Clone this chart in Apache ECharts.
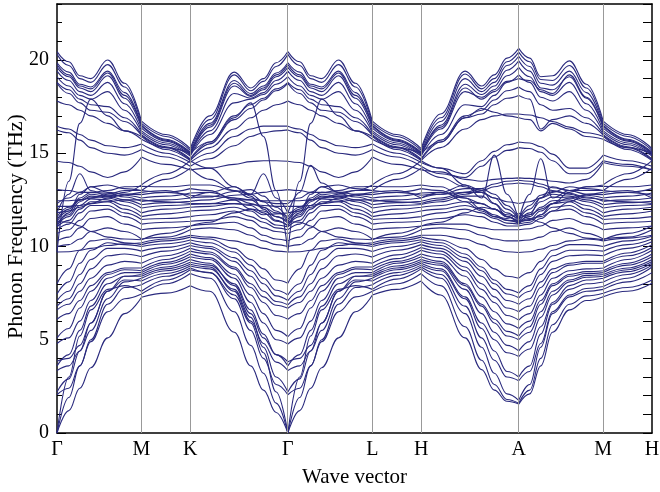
<!DOCTYPE html>
<html><head><meta charset="utf-8">
<script src="https://cdn.jsdelivr.net/npm/echarts@6/dist/echarts.min.js"></script>
<style>html,body{margin:0;padding:0;background:#fff}#c{width:660px;height:492px}</style>
</head><body><div id="c"></div>
<script>
// path distances of sample points (Γ-M length = 1)
const kDist = [0,0.14,0.27,0.40,0.60,0.80,1.000, 1.289,1.577, 1.808,2.097,2.293,2.443,2.593,2.732,
  2.872,3.002,3.132,3.332,3.532,3.732, 4.020,4.309, 4.540,4.829,5.025,5.175,5.325,5.464,
  5.594,5.724,5.864,6.064,6.264,6.464, 6.752,7.041];
const kPos = [0,1,1.577,2.732,3.732,4.309,5.464,6.464,7.041];
const kLabels = ['Γ','M','K','Γ','L','H','A','M','H'];
const segNodes = [0,6,8,14,20,22,28,34,36];
const yTicks = [0,5,10,15,20];

// upper bands
const bU1 = [20.45,19.9,19.15,19.0,20.0,18.75,16.72, 16.0,15.25, 17.0,19.35,18.5,19.0,19.85,20.45, 19.9,19.15,19.0,20.0,18.75,16.72, 16.0,15.25, 17.1,19.4,18.6,19.2,20.1,20.62, 20.1,19.1,19.15,19.95,18.7,16.72, 16.0,15.25];
const bU2 = [20.3,19.7,19.0,18.8,19.75,18.55,16.6, 15.9,15.15, 16.8,19.2,18.35,18.85,19.65,20.3, 19.7,19.0,18.8,19.75,18.55,16.6, 15.9,15.15, 16.9,19.25,18.45,19.0,19.9,20.42, 19.9,18.95,18.9,19.7,18.5,16.6, 15.9,15.15];
const bU3 = [19.85,19.35,18.7,18.55,19.4,18.25,16.5, 15.75,15.05, 16.6,18.9,18.2,18.6,19.3,19.85, 19.35,18.7,18.55,19.4,18.25,16.5, 15.75,15.05, 16.7,19.0,18.3,18.8,19.7,20.2, 19.65,18.75,18.65,19.4,18.25,16.5, 15.75,15.05];
const bU4 = [19.6,19.1,18.5,18.3,19.15,17.95,16.35, 15.65,14.95, 16.4,18.6,18.05,18.4,19.1,19.6, 19.1,18.5,18.3,19.15,17.95,16.35, 15.65,14.95, 16.5,18.7,18.15,18.6,19.45,19.95, 19.4,18.5,18.4,19.1,17.95,16.35, 15.65,14.95];
const bU5 = [19.4,18.9,18.3,18.1,18.8,17.65,16.2, 15.55,14.9, 16.2,18.2,17.95,18.25,18.9,19.4, 18.9,18.3,18.1,18.8,17.65,16.2, 15.55,14.9, 16.3,18.3,18.0,18.4,19.15,19.6, 19.1,18.3,18.1,18.8,17.65,16.2, 15.55,14.9];
const bU6 = [19.1,18.6,18.1,17.9,18.3,17.3,16.1, 15.45,14.85, 16.0,17.7,17.9,18.15,18.7,19.1, 18.6,18.1,17.9,18.3,17.3,16.1, 15.45,14.85, 16.0,17.6,17.5,18.1,18.8,19.2, 18.8,18.0,17.8,18.3,17.3,16.1, 15.45,14.85];
const bUA = [19.75,19.2,18.6,18.45,19.3,18.1,16.45, 15.7,15.0, 16.5,18.75,18.1,18.5,19.2,19.75, 19.2,18.6,18.45,19.3,18.1,16.45, 15.7,15.0, 16.4,18.5,17.9,18.3,18.85,19.0, 18.9,18.4,18.2,19.2,18.0,16.45, 15.7,15.0];
const bU7 = [18.8,18.4,17.9,17.6,17.5,16.9,16.0, 15.35,14.7, 15.6,17.0,17.6,17.95,18.45,18.8, 18.4,17.9,17.6,17.5,16.9,16.0, 15.35,14.7, 15.7,17.0,17.3,17.85,18.35,18.55, 18.3,17.6,17.3,17.4,16.9,16.0, 15.35,14.7];
const bUB = [18.75,18.2,17.7,17.3,17.2,16.7,15.95, 15.3,14.65, 15.5,16.8,17.4,17.85,18.35,18.75, 18.2,17.7,17.3,17.2,16.7,15.95, 15.3,14.65, 15.6,16.9,17.1,17.6,17.95,18.1, 17.9,16.3,16.8,17.0,16.6,15.95, 15.3,14.65];
const bU8 = [17.8,17.6,17.3,17.0,16.6,16.2,15.9, 15.2,14.6, 15.3,16.3,16.9,17.3,17.6,17.8, 17.6,17.3,17.0,16.6,16.2,15.9, 15.2,14.6, 15.3,16.3,16.8,17.0,17.1,17.1, 17.05,16.9,16.7,16.4,16.1,15.9, 15.2,14.6];
const bS1 = [9.7,13.5,16.6,17.9,17.0,16.2,15.75, 15.3,15.0, 15.6,16.9,17.7,15.9,13.0,9.7, 13.5,16.6,17.9,17.0,16.2,15.75, 15.3,15.0, 15.6,16.9,17.4,17.2,17.0,16.9, 16.8,16.2,16.6,16.3,15.9,15.75, 15.3,15.0];
const bU9 = [16.45,16.3,16.0,15.7,15.4,15.3,15.5, 15.0,14.5, 15.0,15.9,16.3,16.45,16.45,16.45, 16.3,16.0,15.7,15.4,15.3,15.5, 15.0,14.5, 14.2,13.9,14.6,15.1,15.45,15.6, 15.55,15.35,14.95,14.2,14.2,14.9, 14.6,14.3];
const bU10 = [16.25,16.1,15.7,15.3,15.0,14.9,15.2, 14.8,14.3, 14.7,15.4,15.9,16.1,16.2,16.25, 16.1,15.7,15.3,15.0,14.9,15.2, 14.8,14.3, 13.9,13.7,14.3,14.8,15.15,15.3, 15.25,15.05,14.6,13.9,13.9,14.6, 14.4,14.1];
const bU11 = [14.57,14.5,14.3,14.0,13.7,14.0,14.8, 14.4,14.1, 14.2,14.4,14.55,14.6,14.6,14.57, 14.5,14.3,14.0,13.7,14.0,14.8, 14.4,14.1, 14.0,13.6,13.5,13.6,13.65,13.68, 13.65,13.6,13.5,13.4,13.6,14.5, 14.3,14.1];
const bHB = [11.8,12.8,13.9,13.0,12.7,12.9,13.3, 13.9,14.6, 14.2,13.2,12.8,13.9,12.6,11.8, 12.9,14.35,13.4,12.9,13.0,13.3, 13.9,14.6, 14.2,13.3,12.6,14.9,12.8,11.4, 12.8,14.7,12.6,13.0,13.2,13.3, 13.9,14.6];
const bX2 = [12.3,12.6,12.9,13.2,13.3,13.1,13.0, 13.6,14.2, 13.6,13.0,12.6,12.4,12.3,12.3, 12.6,12.9,13.2,13.3,13.1,13.0, 13.6,14.2, 13.7,13.2,12.9,12.6,12.4,12.3, 12.4,12.6,12.9,13.2,13.1,13.0, 13.6,14.2];

// middle bands
const bM1 = [9.7,9.72,9.8,9.9,10.05,10.15,10.2, 10.4,10.6, 10.5,10.3,10.1,9.9,9.75,9.7, 9.72,9.8,9.9,10.05,10.15,10.2, 10.4,10.6, 10.6,10.4,10.1,9.85,9.72,9.68, 9.72,9.85,10.05,10.3,10.4,10.3, 10.45,10.6];
const bM2 = [10.0,10.1,10.4,10.8,11.0,10.8,10.4, 10.5,10.9, 11.0,10.9,10.6,10.3,10.1,10.0, 10.1,10.4,10.8,11.0,10.8,10.4, 10.5,10.9, 11.0,10.9,10.6,10.4,10.3,10.3, 10.35,10.5,10.8,11.0,10.7,10.4, 10.5,10.9];
const bM3 = [10.3,10.5,11.0,11.5,11.6,11.2,10.9, 11.0,11.1, 11.2,11.3,11.0,10.6,10.4,10.3, 10.5,11.0,11.5,11.6,11.2,10.9, 11.0,11.1, 11.2,11.2,11.0,10.9,10.9,10.9, 10.95,11.1,11.4,11.5,11.2,10.9, 11.0,11.1];
const bM4 = [10.7,10.9,11.4,11.9,12.0,11.6,11.2, 11.3,11.35, 11.4,11.6,11.4,11.0,10.8,10.7, 10.9,11.4,11.9,12.0,11.6,11.2, 11.3,11.35, 11.5,11.7,11.6,11.3,11.1,11.1, 11.2,11.5,11.9,12.0,11.6,11.2, 11.3,11.35];
const bM5 = [10.9,11.2,11.8,12.2,12.2,11.8,11.45, 11.5,11.6, 11.7,11.9,11.6,11.3,11.0,10.9, 11.2,11.8,12.2,12.2,11.8,11.45, 11.5,11.6, 11.8,12.0,11.8,11.5,11.25,11.2, 11.3,11.7,12.1,12.2,11.8,11.45, 11.5,11.6];
const bM6 = [11.05,11.4,12.0,12.4,12.4,12.0,11.6, 11.75,11.9, 11.95,12.1,11.9,11.5,11.15,11.05, 11.4,12.0,12.4,12.4,12.0,11.6, 11.75,11.9, 12.0,12.2,12.0,11.7,11.4,11.25, 11.45,11.9,12.3,12.4,12.0,11.6, 11.75,11.9];
const bM7 = [11.15,11.6,12.2,12.55,12.5,12.2,11.8, 12.0,12.1, 12.15,12.3,12.2,11.8,11.35,11.15, 11.6,12.2,12.55,12.5,12.2,11.8, 12.0,12.1, 12.2,12.4,12.3,12.0,11.6,11.3, 11.6,12.1,12.45,12.5,12.2,11.8, 12.0,12.1];
const bM8 = [11.25,11.7,12.4,12.7,12.6,12.4,12.06, 12.2,12.25, 12.3,12.5,12.5,12.1,11.6,11.25, 11.7,12.4,12.7,12.6,12.4,12.06, 12.2,12.25, 12.4,12.7,12.7,12.3,11.8,11.35, 11.8,12.4,12.65,12.6,12.4,12.06, 12.2,12.25];
const bM9 = [11.35,11.9,12.5,12.8,12.7,12.5,12.24, 12.35,12.42, 12.5,12.75,12.8,12.4,11.9,11.35, 11.9,12.5,12.8,12.7,12.5,12.24, 12.35,12.42, 12.6,12.9,12.9,12.6,12.0,11.45, 12.0,12.6,12.8,12.7,12.5,12.24, 12.35,12.42];
const bM10 = [11.45,12.0,12.6,12.9,12.85,12.65,12.42, 12.5,12.6, 12.65,12.95,13.05,12.7,12.1,11.45, 12.0,12.6,12.9,12.85,12.65,12.42, 12.5,12.6, 12.8,13.1,13.1,12.8,12.2,11.5, 12.2,12.75,12.95,12.85,12.65,12.42, 12.5,12.6];
const bM11 = [11.6,12.1,12.5,12.6,12.7,12.75,12.6, 12.7,12.87, 12.9,12.6,12.3,12.1,11.8,11.6, 12.1,12.5,12.6,12.7,12.75,12.6, 12.7,12.87, 12.9,12.6,12.3,12.0,11.7,11.5, 11.7,12.0,12.3,12.6,12.75,12.6, 12.7,12.87];
const bM12 = [11.8,11.9,12.1,12.3,12.6,12.8,12.78, 12.9,13.1, 13.0,12.5,12.0,11.7,11.75,11.8, 11.9,12.1,12.3,12.6,12.8,12.78, 12.9,13.1, 13.0,12.4,11.9,11.6,11.5,11.8, 11.5,11.6,11.9,12.4,12.8,12.78, 12.9,13.1];
const bM13 = [12.15,12.15,12.2,12.3,12.4,12.5,12.5, 12.4,12.3, 12.3,12.3,12.25,12.2,12.15,12.15, 12.15,12.2,12.3,12.4,12.5,12.5, 12.4,12.3, 12.5,12.8,13.0,13.2,13.35,13.4, 13.35,13.2,13.0,12.8,12.6,12.5, 12.4,12.3];
const bM14 = [12.45,12.45,12.5,12.6,12.8,13.0,13.0, 12.9,12.75, 12.7,12.6,12.5,12.45,12.45,12.45, 12.45,12.5,12.6,12.8,13.0,13.0, 12.9,12.75, 12.8,12.9,13.1,13.35,13.5,13.55, 13.5,13.35,13.15,13.0,13.0,13.0, 12.9,12.75];
const bM15 = [13.05,13.0,12.9,12.9,13.0,13.2,13.23, 13.2,13.3, 13.3,13.0,12.8,12.9,13.0,13.05, 13.0,12.9,12.9,13.0,13.2,13.23, 13.2,13.3, 13.2,12.6,12.0,11.6,11.4,11.35, 11.4,11.7,12.3,12.9,13.2,13.23, 13.2,13.3];
const bM16 = [11.35,11.3,11.1,10.8,10.5,10.4,10.36, 10.7,11.1, 11.3,11.8,12.0,11.9,11.6,11.35, 11.3,11.1,10.8,10.5,10.4,10.36, 10.7,11.1, 11.3,11.8,12.1,12.0,11.6,11.3, 11.5,11.3,11.0,10.7,10.45,10.36, 10.7,11.1];
const bM17 = [11.1,11.8,12.8,13.2,12.9,12.8,12.9, 13.0,12.6, 12.9,13.2,12.7,12.0,11.4,11.1, 11.8,12.8,13.2,12.9,12.8,12.9, 13.0,12.6, 12.9,13.3,13.0,12.3,11.6,11.2, 11.7,12.6,13.2,13.0,12.8,12.9, 13.0,12.6];

// lower bands
const bL1 = [0,1.2,2.4,3.5,5.1,6.4,7.28, 7.5,7.9, 7.6,5.4,3.6,2.3,1.1,0, 1.2,2.4,3.5,5.1,6.5,7.4, 7.7,8.15, 7.4,5.1,3.4,2.3,1.7,1.55, 2.1,3.6,5.4,6.6,7.1,7.31, 7.6,8.03];
const bL2 = [0,1.9,3.6,4.9,6.5,7.2,7.45, 8.0,8.55, 8.3,6.5,4.7,3.2,1.6,0, 1.9,3.6,4.9,6.5,7.3,7.6, 8.0,8.55, 7.9,5.7,3.9,2.6,1.8,1.6, 2.3,4.0,5.8,6.9,7.35,7.49, 7.8,8.2];
const bL3 = [0,3.0,5.2,6.6,7.7,7.9,7.6, 8.2,8.75, 8.6,7.4,5.9,4.3,2.2,0, 3.0,5.2,6.6,7.7,7.9,7.7, 8.25,8.8, 8.3,6.4,4.6,3.2,2.1,1.75, 2.6,4.6,6.4,7.3,7.6,7.7, 8.1,8.6];
const bL4 = [2.05,2.4,3.6,5.0,6.9,7.8,7.95, 8.4,8.85, 8.6,7.2,5.5,4.0,2.6,2.05, 2.4,3.6,5.0,6.9,7.8,7.95, 8.45,8.9, 8.5,6.8,5.1,3.9,3.0,2.8, 3.3,4.8,6.5,7.4,7.75,7.85, 8.3,8.9];
const bL5 = [2.2,2.9,4.4,5.9,7.6,8.2,8.15, 8.55,8.95, 8.8,7.7,6.2,4.6,3.0,2.2, 2.9,4.4,5.9,7.6,8.2,8.15, 8.6,9.0, 8.7,7.2,5.6,4.4,3.3,3.0, 3.6,5.3,6.9,7.7,8.0,8.1, 8.5,9.0];
const bL6 = [3.35,3.6,4.4,5.5,7.2,8.1,8.3, 8.7,9.05, 8.9,7.6,6.0,4.8,3.8,3.35, 3.6,4.4,5.5,7.2,8.1,8.3, 8.75,9.1, 8.8,7.3,5.9,5.0,4.3,4.1, 4.5,5.7,7.0,7.9,8.2,8.3, 8.65,9.1];
const bL7 = [3.6,4.2,5.5,6.8,8.0,8.4,8.4, 8.8,9.15, 9.0,8.0,6.6,5.3,4.2,3.6, 4.2,5.5,6.8,8.0,8.4,8.4, 8.85,9.2, 9.0,7.7,6.4,5.4,4.7,4.4, 4.9,6.2,7.4,8.1,8.35,8.4, 8.75,9.2];
const bL8 = [3.85,4.0,4.7,5.9,7.6,8.4,8.5, 8.9,9.3, 9.1,7.9,6.4,5.1,4.2,3.82, 4.0,4.7,5.9,7.6,8.4,8.5, 8.95,9.3, 9.1,7.9,6.8,5.9,5.2,5.0, 5.4,6.5,7.6,8.2,8.45,8.5, 8.85,9.3];
const bL9 = [4.8,5.1,6.0,7.1,8.3,8.6,8.6, 9.05,9.45, 9.3,8.3,7.0,5.9,5.0,4.77, 5.1,6.0,7.1,8.3,8.6,8.6, 9.1,9.45, 9.2,8.0,6.9,6.1,5.45,5.2, 5.7,6.9,7.9,8.4,8.55,8.6, 9.0,9.45];
const bL10 = [5.1,5.6,6.7,7.6,8.5,8.75,8.7, 9.15,9.6, 9.4,8.5,7.4,6.4,5.5,5.16, 5.6,6.7,7.6,8.5,8.8,8.75, 9.2,9.6, 9.4,8.4,7.3,6.5,5.85,5.6, 6.0,7.1,8.0,8.5,8.65,8.7, 9.1,9.6];
const bL11 = [6.1,6.4,7.1,7.9,8.6,8.85,8.85, 9.3,9.75, 9.6,8.8,7.8,7.0,6.3,6.1, 6.4,7.1,7.9,8.6,8.9,8.9, 9.35,9.8, 9.6,8.7,7.7,7.0,6.3,6.05, 6.4,7.4,8.3,8.7,8.8,8.85, 9.3,9.8];
const bL12 = [6.6,6.9,7.6,8.3,9.0,9.2,9.1, 9.5,9.9, 9.7,8.9,8.0,7.3,6.85,6.69, 7.0,7.6,8.3,9.0,9.2,9.1, 9.55,9.95, 9.75,8.9,8.0,7.3,6.7,6.5, 6.8,7.8,8.6,9.0,9.1,9.1, 9.5,9.95];
const bL13 = [6.8,7.2,8.0,8.8,9.5,9.6,9.45, 9.75,10.05, 9.9,9.2,8.4,7.6,7.05,6.87, 7.3,8.0,8.8,9.5,9.6,9.43, 9.8,10.1, 9.9,9.2,8.4,7.7,7.1,6.9, 7.2,8.1,8.8,9.1,9.2,9.2, 9.65,10.1];
const bL14 = [7.1,7.6,8.5,9.3,9.9,9.9,9.75, 9.95,10.2, 10.0,9.4,8.7,8.0,7.35,7.1, 7.6,8.5,9.3,9.9,9.9,9.73, 10.0,10.25, 10.05,9.4,8.7,8.0,7.45,7.25, 7.6,8.5,9.2,9.5,9.55,9.5, 9.9,10.25];
const bL15 = [7.45,8.1,9.1,9.8,10.2,10.1,10.0, 10.15,10.35, 10.2,9.7,9.0,8.3,7.65,7.4, 8.0,9.0,9.8,10.2,10.1,10.0, 10.2,10.36, 10.2,9.6,8.9,8.2,7.7,7.5, 7.9,8.8,9.5,9.8,9.8,9.75, 10.1,10.4];
const bL16 = [8.0,8.8,9.8,10.3,10.4,10.2,10.1, 10.3,10.5, 10.4,9.9,9.3,8.8,8.2,8.03, 8.8,9.8,10.3,10.4,10.2,10.1, 10.3,10.5, 10.35,9.9,9.3,8.8,8.4,8.3, 8.6,9.2,9.8,10.1,10.1,10.0, 10.3,10.55];

const bands = [bU1,bU2,bU3,bU4,bU5,bU6,bUA,bU7,bUB,bU8,bS1,bU9,bU10,bU11,bHB,bX2,
  bM1,bM2,bM3,bM4,bM5,bM6,bM7,bM8,bM9,bM10,bM11,bM12,bM13,bM14,bM15,bM16,bM17,
  bL1,bL2,bL3,bL4,bL5,bL6,bL7,bL8,bL9,bL10,bL11,bL12,bL13,bL14,bL15,bL16];

const FONT = "'Liberation Serif','Times New Roman',serif";
const LINE = '#2a2a7e';

function bandData(vals){
  const out = [];
  for (let s = 0; s < segNodes.length - 1; s++) {
    for (let i = segNodes[s]; i <= segNodes[s+1]; i++) out.push([kDist[i], vals[i]]);
    if (s < segNodes.length - 2) out.push([kDist[segNodes[s+1]], '-']);
  }
  return out;
}

const series = bands.map((b, i) => ({
  type: 'line', data: bandData(b), xAxisIndex: 0, yAxisIndex: 0,
  smooth: 0.4, smoothMonotone: 'x', symbol: 'none', silent: true,
  connectNulls: false, lineStyle: { color: LINE, width: 1.1 }, z: 3,
  markLine: i === 0 ? {
    silent: true, symbol: 'none', label: { show: false },
    lineStyle: { color: '#999', width: 1, type: 'solid' },
    data: kPos.slice(1, -1).map(v => ({ xAxis: v }))
  } : undefined
}));

const chart = echarts.init(document.getElementById('c'), null, { renderer: 'canvas' });
const frame = { show: true, onZero: false, lineStyle: { color: '#000', width: 1.5 } };
chart.setOption({
  animation: false,
  backgroundColor: '#fff',
  grid: { left: 57, right: 8, top: 4, bottom: 59, outerBoundsMode: 'none', containLabel: false },
  xAxis: [
    { type: 'value', min: 0, max: kPos[kPos.length-1], position: 'bottom',
      axisLine: frame, axisTick: { show: false }, splitLine: { show: false },
      axisLabel: { customValues: kPos, color: '#000', fontSize: 20, fontFamily: FONT, margin: 7,
        formatter: v => { const i = kPos.findIndex(p => Math.abs(p - v) < 1e-6); return i >= 0 ? kLabels[i] : ''; } },
      name: 'Wave vector', nameLocation: 'middle', nameGap: 34, nameMoveOverlap: false,
      nameTextStyle: { color: '#000', fontSize: 21, fontFamily: FONT } },
    { type: 'value', min: 0, max: kPos[kPos.length-1], position: 'top',
      axisLine: frame, axisTick: { show: false }, axisLabel: { show: false }, splitLine: { show: false } }
  ],
  yAxis: [
    { type: 'value', min: 0, max: 23, interval: 5, position: 'left',
      axisLine: frame, splitLine: { show: false },
      axisTick: { show: true, inside: true, length: 9, lineStyle: { color: '#000', width: 1 } },
      axisLabel: { showMaxLabel: false, color: '#000', fontSize: 20, fontFamily: FONT, margin: 8,
        formatter: v => yTicks.includes(v) ? String(v) : '' },
      name: 'Phonon Frequency (THz)', nameLocation: 'middle', nameGap: 30, nameMoveOverlap: false,
      nameTextStyle: { color: '#000', fontSize: 22, fontFamily: FONT, padding: [0, 16, 0, 0] } },
    { type: 'value', min: 0, max: 23, interval: 1, position: 'left',
      axisLine: { show: false, onZero: false }, splitLine: { show: false },
      axisTick: { show: true, inside: true, length: 5, lineStyle: { color: '#000', width: 1 } },
      axisLabel: { show: false } },
    { type: 'value', min: 0, max: 23, interval: 1, position: 'right',
      axisLine: frame, splitLine: { show: false },
      axisTick: { show: true, inside: true, length: 9, lineStyle: { color: '#000', width: 1 } },
      axisLabel: { show: false } }
  ],
  series: series
});
</script></body></html>
